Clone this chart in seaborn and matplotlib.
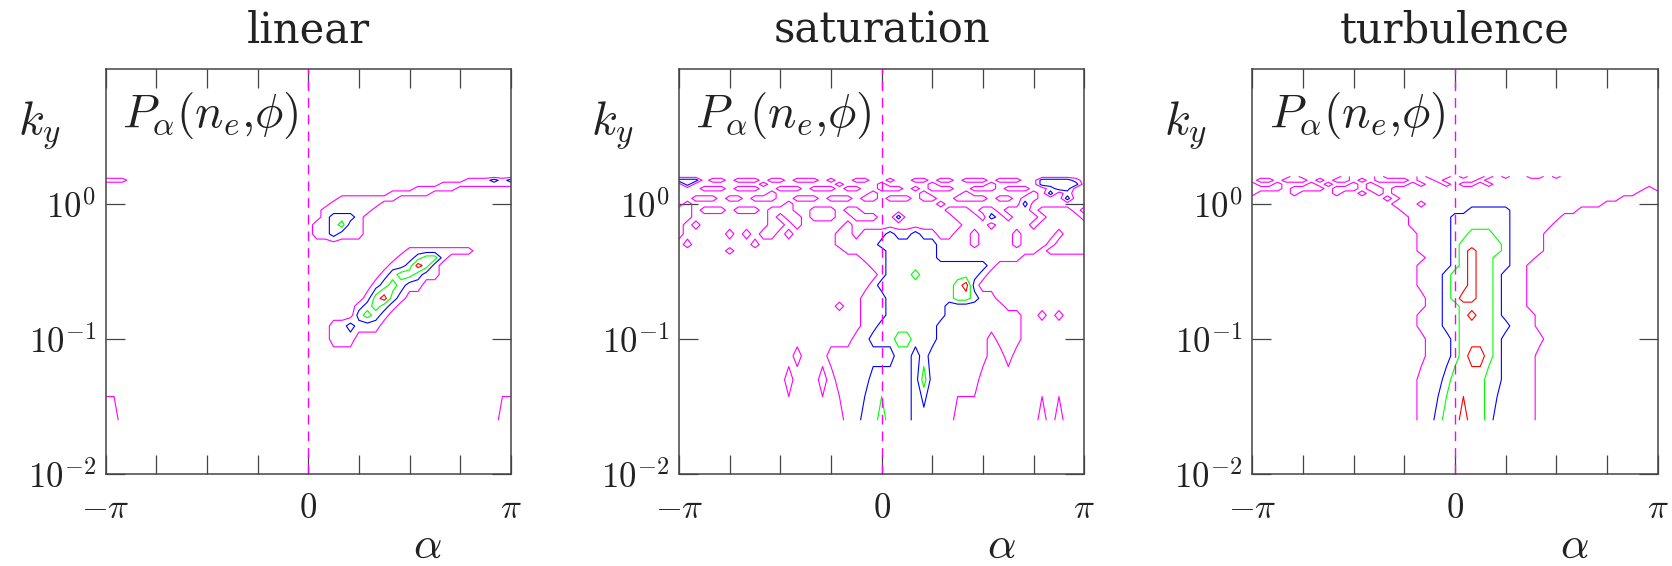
import numpy as np
import matplotlib
matplotlib.use("Agg")
import matplotlib.pyplot as plt
from matplotlib.ticker import NullLocator
import seaborn as sns

# --- data: phase-angle spectra P_alpha(n_e, phi) ---
# rows: k_y values (top to bottom), columns: alpha from -pi to pi in steps of pi/24
KY_ROWS = [1.6, 1.5, 1.4, 1.3, 1.2, 1.1, 1.0, 0.9, 0.8, 0.7, 0.6, 0.5, 0.45,
           0.4, 0.35, 0.3, 0.25, 0.2, 0.175, 0.15, 0.125, 0.1, 0.075, 0.05, 0.025]
N_ALPHA = 49

# level index per cell: 0 below lowest contour, 1 magenta, 2 blue, 3 green, 4 red
LINEAR = [
    "0000000000 0000000000 0000000000 0000000000 000000000",
    "1110000000 0000000000 0000000000 0000000000 000111212",
    "0000000000 0000000000 0000000000 0000000000 111111111",
    "0000000000 0000000000 0000000000 0000000111 110000000",
    "0000000000 0000000000 0000000000 0000111110 000000000",
    "0000000000 0000000000 0000000011 1111100000 000000000",
    "0000000000 0000000000 0000000111 1110000000 000000000",
    "0000000000 0000000000 0000001111 1100000000 000000000",
    "0000000000 0000000000 0000001222 1000000000 000000000",
    "0000000000 0000000000 0000011231 1000000000 000000000",
    "0000000000 0000000000 0000011211 1000000000 000000000",
    "0000000000 0000000000 0000000000 0000000000 000000000",
    "0000000000 0000000000 0000000000 0000001111 111100000",
    "0000000000 0000000000 0000000000 0000011233 100000000",
    "0000000000 0000000000 0000000000 0000112431 000000000",
    "0000000000 0000000000 0000000000 0001233211 000000000",
    "0000000000 0000000000 0000000000 0012321100 000000000",
    "0000000000 0000000000 0000000000 0134210000 000000000",
    "0000000000 0000000000 0000000000 1232100000 000000000",
    "0000000000 0000000000 0000000000 2321000000 000000000",
    "0000000000 0000000000 0000000112 1110000000 000000000",
    "0000000000 0000000000 0000000111 0000000000 000000000",
    "0000000000 0000000000 0000000000 0000000000 000000000",
    "0000000000 0000000000 0000000000 0000000000 000000000",
    "1100000000 0000000000 0000000000 0000000000 000000011",
]

SATURATION = [
    "0000000000 0000000000 0000000000 0000000000 000000000",
    "2220110111 0110111010 0110010011 0110111011 100222210",
    "0200000000 1000000001 0000100000 1000000100 000222220",
    "0001110111 0011101110 1100111010 1110011101 110012200",
    "0000000000 0100000000 0001000001 0000100000 001020100",
    "0011101101 1100111011 1011011101 1001111011 011000200",
    "0100000000 0001000000 0000000000 0100000000 020000000",
    "1101110111 0111001110 1100000000 0011101101 110111101",
    "1100000000 0101101110 0111002000 0001110210 111011110",
    "1010000000 0110100000 1000000000 0000111011 110111111",
    "1000001010 1101000001 1011121121 1001101111 011110111",
    "0100000001 0000000001 1111222222 2111101111 011101111",
    "0000001000 0000000000 1111122222 2111111111 111011111",
    "0000000000 0000000000 0011122222 2111111111 100000000",
    "0000000000 0000000000 0001122222 2222222100 000000000",
    "0000000000 0000000000 0000122232 2222221000 000000000",
    "0000000000 0000000000 0001222222 2223410000 000000000",
    "0000000000 0000000000 0011122222 2223321100 000000000",
    "0000000000 0000000001 0011122222 2211111110 000000000",
    "0000000000 0000000000 0011122222 2211111111 100101000",
    "0000000000 0000000000 0011222222 2111111111 100000000",
    "0000000000 0000000000 0112223322 2111111011 100000000",
    "0000000000 0000100011 1111112212 1111111001 000000000",
    "0000000000 0001000101 1112222213 1111110000 000000000",
    "0000000000 0000000000 1122322211 1110000000 000101000",
]

TURBULENCE = [
    "0000010000 0100010000 1000101101 0110010111 111111111",
    "0110111010 1101011110 1101111011 1111111111 111111111",
    "1001000101 0010100001 0110100101 1111111111 111111111",
    "1111011110 1110110111 1111111111 1111111111 111111101",
    "1000010000 1001010111 1111111111 1111111111 111111000",
    "0000000000 0000001011 1111111111 1111111111 111100000",
    "0000000000 0000000111 0111111111 1111111111 110000000",
    "0000000000 0000000011 1111112222 2111111110 000000000",
    "0000000000 0000000001 1111222222 2111111000 000000000",
    "0000000000 0000000001 1111222222 2111110000 000000000",
    "0000000000 0000000000 1111223332 2111100000 000000000",
    "0000000000 0000000000 1111233333 2111100000 000000000",
    "0000000000 0000000000 1111234333 2111100000 000000000",
    "0000000000 0000000000 0111234332 2111000000 000000000",
    "0000000000 0000000000 1111234332 2110000000 000000000",
    "0000000000 0000000000 1112334332 1110000000 000000000",
    "0000000000 0000000000 1112334332 1110000000 000000000",
    "0000000000 0000000000 0112344332 1110000000 000000000",
    "0000000000 0000000000 0112233332 1110000000 000000000",
    "0000000000 0000000000 1112234332 1111000000 000000000",
    "0000000000 0000000000 1112233332 2111000000 000000000",
    "0000000000 0000000000 0111233332 1111100000 000000000",
    "0000000000 0000000000 0111234432 1111000000 000000000",
    "0000000000 0000000000 1112333322 1111000000 000000000",
    "0000000000 0000000000 1123343321 1111000000 000000000",
]

PANEL_TITLES = ["linear", "saturation", "turbulence"]
LEVELS = [0.5, 1.5, 2.5, 3.5]
LEVEL_COLORS = ["#ff00ff", "#0000ff", "#00ff00", "#ff0000"]
X_TICKS = [-4, -3, -2, -1, 0, 1, 2, 3, 4]          # in units of pi/4
X_TICKLABELS = [r"$-\pi$", "", "", "", r"$0$", "", "", "", r"$\pi$"]
Y_TICKS = [1e-2, 1e-1, 1e0]
Y_TICKLABELS = [r"$10^{-2}$", r"$10^{-1}$", r"$10^{0}$"]


def to_grid(rows):
    out = []
    for r in rows:
        s = r.replace(" ", "")
        s = (s + "0" * N_ALPHA)[:N_ALPHA]
        out.append([int(c) for c in s])
    return np.array(out, dtype=float)


sns.set_theme(style="ticks")
plt.rcParams["mathtext.fontset"] = "cm"
plt.rcParams["font.family"] = ["DejaVu Serif"]
plt.rcParams["text.color"] = "#222222"

alpha = np.linspace(-np.pi, np.pi, N_ALPHA)
ky = np.array(KY_ROWS)

fig = plt.figure(figsize=(16.72, 5.66), dpi=100)
lefts = [0.06316, 0.40610, 0.74898]

for left, title, rows in zip(lefts, PANEL_TITLES, [LINEAR, SATURATION, TURBULENCE]):
    ax = fig.add_axes([left, 0.16254, 0.24240, 0.71555])
    z = to_grid(rows)
    ax.contour(alpha, ky, z, levels=LEVELS, colors=LEVEL_COLORS, linewidths=0.8)
    ax.axvline(0, color="#ff00ff", lw=1.0, dashes=(7, 5))

    ax.set_yscale("log")
    ax.set_xlim(-np.pi, np.pi)
    ax.set_ylim(1e-2, 1e1)
    ax.set_xticks(np.array(X_TICKS) * np.pi / 4)
    ax.set_xticklabels(X_TICKLABELS)
    ax.set_yticks(Y_TICKS)
    ax.set_yticklabels(Y_TICKLABELS)
    ax.yaxis.set_minor_locator(NullLocator())
    ax.xaxis.set_minor_locator(NullLocator())
    ax.tick_params(which="major", direction="in", length=13.7, width=0.9,
                   color="#444444", top=True, right=True, labelsize=25,
                   labelcolor="#222222")
    ax.tick_params(axis="x", pad=12)
    ax.tick_params(axis="y", pad=7)
    for sp in ax.spines.values():
        sp.set_color("#444444")
        sp.set_linewidth(1.1)
    ax.grid(False)

    ax.text(0.5, 1 + 27 / 405, title, transform=ax.transAxes, ha="center",
            va="baseline", fontsize=30, family="DejaVu Serif", color="#222222")
    ax.text(-0.164, 0.86, r"$k_y$", transform=ax.transAxes, ha="center",
            va="center", fontsize=34)
    ax.text(0.258, 0.885, r"$P_\alpha(n_e{,}\phi)$", transform=ax.transAxes,
            ha="center", va="center", fontsize=34)
    ax.text(0.795, -0.177, r"$\alpha$", transform=ax.transAxes, ha="center",
            va="center", fontsize=32)

fig.savefig("out.png", dpi=100)
